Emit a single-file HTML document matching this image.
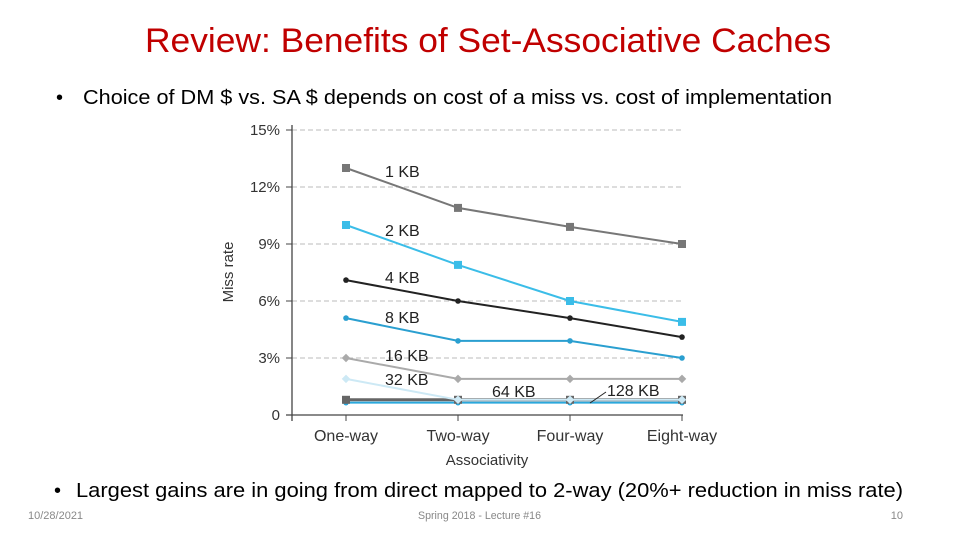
<!DOCTYPE html>
<html><head><meta charset="utf-8"><style>
body{margin:0;background:#fff;}
svg{display:block;font-family:"Liberation Sans",sans-serif;}
</style></head><body>
<svg id="s" width="960" height="540" viewBox="0 0 960 540">
<text x="145" y="52" font-size="34" fill="#c00000" textLength="686" lengthAdjust="spacingAndGlyphs">Review: Benefits of Set-Associative Caches</text>
<text x="56" y="104" font-size="20">•</text>
<text x="83" y="104" font-size="20" textLength="749" lengthAdjust="spacingAndGlyphs">Choice of DM $ vs. SA $ depends on cost of a miss vs. cost of implementation</text>
<text x="54" y="497" font-size="20">•</text>
<text x="76" y="497" font-size="20" textLength="827" lengthAdjust="spacingAndGlyphs">Largest gains are in going from direct mapped to 2-way (20%+ reduction in miss rate)</text>
<text x="28" y="519" font-size="11" fill="#888">10/28/2021</text>
<text x="418" y="519" font-size="11" fill="#888" textLength="123" lengthAdjust="spacingAndGlyphs">Spring 2018 - Lecture #16</text>
<text x="903" y="519" font-size="11" fill="#888" text-anchor="end">10</text>
<g id="chart"></g>
</svg>
<script>
const categories=["One-way","Two-way","Four-way","Eight-way"];
const yTicks=[0,3,6,9,12,15];
const yTickLabels=["0","3%","6%","9%","12%","15%"];
const seriesNames=["1 KB","2 KB","4 KB","8 KB","16 KB","32 KB","64 KB","128 KB"];
const s1KB=[13,10.9,9.9,9.0];
const s2KB=[10,7.9,6,4.9];
const s4KB=[7.1,6.0,5.1,4.1];
const s8KB=[5.1,3.9,3.9,3.0];
const s16KB=[3.0,1.9,1.9,1.9];
const s32KB=[1.9,0.8,0.8,0.8];
const s64KB=[0.8,0.8,0.8,0.8];
const s128KB=[0.65,0.65,0.65,0.65];
const allSeries=[s1KB,s2KB,s4KB,s8KB,s16KB,s32KB,s64KB,s128KB];
const colors=["#777","#3bbde8","#222","#2a9fd0","#aaa","#cde9f5","#666","#2aa8dc"];
const markers=["sq","sq","dot","dot","dia","dia","sq","dot"];
const NS="http://www.w3.org/2000/svg";
const g=document.getElementById('chart');
const X=i=>346+i*112;
const Y=v=>415-v*19;
function mk(t,a){const e=document.createElementNS(NS,t);for(const k in a)e.setAttribute(k,a[k]);g.appendChild(e);return e;}
yTicks.forEach((v,i)=>{
  if(v>0){const l=mk('line',{x1:292,x2:683,y1:Y(v),y2:Y(v),stroke:'#bbb','stroke-dasharray':'5,3'});
  
  }
  const t=mk('text',{x:280,y:Y(v)+5,'font-size':15,'text-anchor':'end',fill:'#333'});t.textContent=yTickLabels[i];
  
  
  const tk=mk('line',{x1:286,x2:292,y1:Y(v),y2:Y(v),stroke:'#444'});
  
  
});
const ya=mk('line',{x1:292,x2:292,y1:125,y2:421,stroke:'#444','stroke-width':1.3});


const xa=mk('line',{x1:286,x2:683,y1:415,y2:415,stroke:'#444','stroke-width':1.3});


categories.forEach((c,i)=>{
  const tk=mk('line',{x1:X(i),x2:X(i),y1:415,y2:421,stroke:'#444'});
  
  
  const t=mk('text',{x:X(i),y:441,'font-size':16,'text-anchor':'middle',fill:'#333'});t.textContent=c;
  
  
});
const xt=mk('text',{x:487,y:465,'font-size':15,'text-anchor':'middle',fill:'#333'});xt.textContent='Associativity';


const yt=mk('text',{x:0,y:0,'font-size':15,'text-anchor':'middle',fill:'#333',transform:'translate(233,272) rotate(-90)'});yt.textContent='Miss rate';


for(let k=allSeries.length-1;k>=0;k--){
  const d=allSeries[k];
  const pl=mk('polyline',{points:d.map((v,i)=>X(i)+','+Y(v)).join(' '),fill:'none',stroke:colors[k],'stroke-width':k==6?3:2});
  
  
  d.forEach((v,i)=>{
    let m;
    if(markers[k]=='sq')m=mk('rect',{x:X(i)-4,y:Y(v)-4,width:8,height:8,fill:colors[k]});
    else if(markers[k]=='dot')m=mk('circle',{cx:X(i),cy:Y(v),r:2.8,fill:colors[k]});
    else m=mk('rect',{x:X(i)-3,y:Y(v)-3,width:6,height:6,fill:colors[k],transform:`rotate(45 ${X(i)} ${Y(v)})`});
    
    
  });
}
const labelPos=[[385,177],[385,236],[385,283],[385,323],[385,361],[385,385],[492,397],[607,396]];
seriesNames.forEach((n,k)=>{
  const t=mk('text',{x:labelPos[k][0],y:labelPos[k][1],'font-size':16,fill:'#222'});t.textContent=n;
  
  
});
const ld=mk('line',{x1:590,x2:606,y1:403,y2:392,stroke:'#222'});


</script>
</body></html>
